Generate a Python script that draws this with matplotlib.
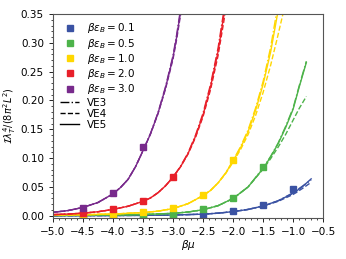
import matplotlib.pyplot as plt
from matplotlib.lines import Line2D
from matplotlib.ticker import AutoMinorLocator

# measured points (beta*mu, I lambda^4 / (8 pi^2 L^2))
eps_labels = ["0.1", "0.5", "1.0", "2.0", "3.0"]
colors = ["#3a52a3", "#4db34a", "#ffd700", "#e8202a", "#782a8c"]

pts_x = [
    [-4.5, -4.0, -3.5, -3.0, -2.5, -2.0, -1.5, -1.0],
    [-4.5, -4.0, -3.5, -3.0, -2.5, -2.0, -1.5],
    [-4.5, -4.0, -3.5, -3.0, -2.5, -2.0],
    [-4.5, -4.0, -3.5, -3.0],
    [-4.5, -4.0, -3.5],
]
pts_y = [
    [0.0001, 0.0002, 0.0004, 0.001, 0.002, 0.0077, 0.018, 0.0465],
    [0.0003, 0.0006, 0.0013, 0.0035, 0.011, 0.031, 0.084],
    [0.0015, 0.003, 0.006, 0.0134, 0.036, 0.096],
    [0.005, 0.011, 0.025, 0.068],
    [0.014, 0.039, 0.12],
]

# fitted curves (VE5 solid, VE4 dashed, VE3 dash-dot)
curve_x = [
    [-5.0, -4.5, -4.0, -3.5, -3.0, -2.5, -2.25, -2.0, -1.75, -1.5, -1.25, -1.0, -0.85, -0.7],
    [-5.0, -4.5, -4.0, -3.5, -3.0, -2.75, -2.5, -2.25, -2.0, -1.75, -1.5, -1.375, -1.25, -1.125, -1.0, -0.9, -0.78],
    [-5.0, -4.5, -4.0, -3.5, -3.25, -3.0, -2.75, -2.5, -2.375, -2.25, -2.125, -2.0, -1.875, -1.75, -1.625, -1.5, -1.375, -1.26, -1.17, -1.1],
    [-5.0, -4.75, -4.5, -4.25, -4.0, -3.75, -3.5, -3.375, -3.25, -3.125, -3.0, -2.875, -2.75, -2.625, -2.5, -2.375, -2.25, -2.15, -2.1],
    [-5.0, -4.75, -4.5, -4.25, -4.0, -3.875, -3.75, -3.625, -3.5, -3.375, -3.25, -3.125, -3.0, -2.94, -2.88, -2.82],
]
ve5_y = [
    [0.0, 0.0002, 0.0004, 0.0007, 0.0013, 0.0028, 0.0045, 0.0072, 0.011, 0.017, 0.026, 0.039, 0.05, 0.064],
    [0.0005, 0.0008, 0.0013, 0.0022, 0.0042, 0.0065, 0.0105, 0.0175, 0.03, 0.05, 0.082, 0.102, 0.125, 0.153, 0.185, 0.223, 0.266],
    [0.0012, 0.0018, 0.003, 0.0055, 0.008, 0.0125, 0.021, 0.035, 0.044, 0.057, 0.074, 0.095, 0.118, 0.146, 0.183, 0.228, 0.284, 0.35, 0.41, 0.46],
    [0.002, 0.003, 0.0045, 0.007, 0.011, 0.0165, 0.025, 0.031, 0.04, 0.052, 0.067, 0.085, 0.108, 0.138, 0.175, 0.224, 0.285, 0.35, 0.39],
    [0.006, 0.009, 0.0145, 0.023, 0.038, 0.049, 0.063, 0.085, 0.113, 0.142, 0.178, 0.222, 0.275, 0.31, 0.35, 0.39],
]
ve4_y = [
    [0.0, 0.0002, 0.0004, 0.0007, 0.0013, 0.0028, 0.0045, 0.0072, 0.011, 0.017, 0.025, 0.037, 0.047, 0.058],
    [0.0005, 0.0008, 0.0013, 0.0022, 0.0042, 0.0065, 0.0105, 0.0175, 0.03, 0.05, 0.081, 0.099, 0.119, 0.141, 0.166, 0.186, 0.207],
    [0.0012, 0.0018, 0.003, 0.0055, 0.008, 0.0125, 0.021, 0.035, 0.044, 0.057, 0.073, 0.093, 0.115, 0.141, 0.174, 0.214, 0.261, 0.31, 0.35, 0.385],
    [0.002, 0.003, 0.0045, 0.007, 0.011, 0.0165, 0.025, 0.031, 0.04, 0.052, 0.067, 0.085, 0.107, 0.136, 0.172, 0.219, 0.278, 0.34, 0.38],
    [0.006, 0.009, 0.0145, 0.023, 0.038, 0.049, 0.063, 0.085, 0.113, 0.142, 0.177, 0.22, 0.272, 0.306, 0.345, 0.385],
]
ve3_y = [
    [0.0, 0.0002, 0.0004, 0.0007, 0.0013, 0.0028, 0.0045, 0.0072, 0.011, 0.017, 0.026, 0.04, 0.051, 0.062],
    [0.0005, 0.0008, 0.0013, 0.0022, 0.0042, 0.0065, 0.0105, 0.0175, 0.03, 0.05, 0.083, 0.103, 0.126, 0.155, 0.187, 0.225, 0.268],
    [0.0012, 0.0018, 0.003, 0.0055, 0.008, 0.0125, 0.021, 0.035, 0.044, 0.057, 0.074, 0.096, 0.12, 0.149, 0.187, 0.233, 0.292, 0.362, 0.42, 0.47],
    [0.002, 0.003, 0.0045, 0.007, 0.011, 0.0165, 0.025, 0.031, 0.04, 0.052, 0.067, 0.086, 0.109, 0.14, 0.178, 0.228, 0.291, 0.358, 0.4],
    [0.006, 0.009, 0.0145, 0.023, 0.038, 0.049, 0.063, 0.085, 0.113, 0.143, 0.179, 0.224, 0.278, 0.314, 0.355, 0.395],
]

plt.rcParams['font.size'] = 7.5
plt.rcParams['mathtext.fontset'] = 'dejavusans'

fig = plt.figure(figsize=(3.46, 2.59), dpi=100)
ax = fig.add_axes([0.153, 0.158, 0.781, 0.788])

for i in range(len(colors)):
    c = colors[i]
    ax.plot(curve_x[i], ve3_y[i], color=c, lw=1.0, ls='-.')
    ax.plot(curve_x[i], ve4_y[i], color=c, lw=1.0, ls='--')
    ax.plot(curve_x[i], ve5_y[i], color=c, lw=1.0, ls='-')
    ax.plot(pts_x[i], pts_y[i], 's', color=c, ms=4, ls='none')

handles = []
for i in range(len(colors)):
    handles.append(Line2D([], [], marker='s', color=colors[i], ls='none', ms=4,
                          label=r'$\beta\epsilon_B = %s$' % eps_labels[i]))
handles.append(Line2D([], [], color='k', ls='-.', lw=1.0, label='VE3'))
handles.append(Line2D([], [], color='k', ls='--', lw=1.0, label='VE4'))
handles.append(Line2D([], [], color='k', ls='-', lw=1.0, label='VE5'))
ax.legend(handles=handles, loc='upper left', frameon=False, fontsize=7.5,
          handlelength=1.8, labelspacing=0.12, borderaxespad=0.3)

ax.set_xlim(-5.0, -0.5)
ax.set_ylim(-0.004, 0.35)
ax.set_xticks([-5.0, -4.5, -4.0, -3.5, -3.0, -2.5, -2.0, -1.5, -1.0, -0.5])
ax.set_yticks([0.0, 0.05, 0.10, 0.15, 0.20, 0.25, 0.30, 0.35])
ax.xaxis.set_minor_locator(AutoMinorLocator(5))
ax.yaxis.set_minor_locator(AutoMinorLocator(5))
ax.tick_params(which='major', length=3, width=0.6)
ax.tick_params(which='minor', length=1.5, width=0.5)
for s in ax.spines.values():
    s.set_color('#555555')
    s.set_linewidth(0.8)
ax.set_xlabel(r'$\beta\mu$', labelpad=1)
ax.set_ylabel(r'$\mathcal{I}\lambda_T^4/(8\pi^2 L^2)$', fontsize=7, labelpad=2)

fig.savefig('out.png', dpi=100)
